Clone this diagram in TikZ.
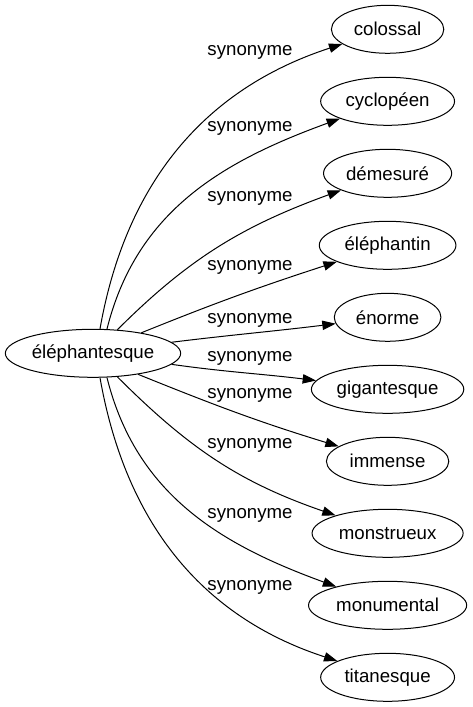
\documentclass[tikz,border=0pt]{standalone}
\usepackage{fontspec}
\setmainfont{Liberation Sans}
\usetikzlibrary{shapes.geometric,arrows.meta}

\begin{document}
\begin{tikzpicture}[x=0.75pt,y=0.75pt,font=\fontsize{14pt}{16pt}\selectfont,
    word/.style={draw,ellipse,inner sep=0pt,minimum height=36pt,line width=0.75pt},
    syn/.style={inner sep=0pt}]
                \useasboundingbox (0,0) rectangle (472,-707);
                \node[word,minimum width=131.5pt] (ele) at (93,-353.3) {éléphantesque};
                \node[word,minimum width=84.3pt]  (col) at (387.6,-29.3)  {colossal};
                \node[word,minimum width=100.4pt] (cyc) at (387.6,-101.3) {cyclopéen};
                \node[word,minimum width=96.1pt]  (dem) at (387.6,-173.3) {démesuré};
                \node[word,minimum width=102.5pt] (elp) at (387.6,-245.3) {éléphantin};
                \node[word,minimum width=80pt]    (eno) at (387.6,-317.3) {énorme};
                \node[word,minimum width=114.3pt] (gig) at (387.6,-389.3) {gigantesque};
                \node[word,minimum width=91.8pt]  (imm) at (387.6,-461.3) {immense};
                \node[word,minimum width=113.3pt] (mst) at (387.6,-533.3) {monstrueux};
                \node[word,minimum width=118.6pt] (mnm) at (387.6,-605.3) {monumental};
                \node[word,minimum width=100.4pt] (tit) at (387.6,-677.3) {titanesque};
                % edge labels
                \node[syn] (s1)  at (250,-52)  {synonyme};
                \node[syn] (s2)  at (250,-128) {synonyme};
                \node[syn] (s3)  at (250,-198) {synonyme};
                \node[syn] (s4)  at (250,-267) {synonyme};
                \node[syn] (s5)  at (250,-320) {synonyme};
                \node[syn] (s6)  at (250,-358) {synonyme};
                \node[syn] (s7)  at (250,-395) {synonyme};
                \node[syn] (s8)  at (250,-445) {synonyme};
                \node[syn] (s9)  at (250,-515) {synonyme};
                \node[syn] (s10) at (250,-587) {synonyme};
                \path[-{Triangle[length=10pt,width=7pt]},line width=0.75pt]
                    (ele.74)  edge[out=80,in=198]  (col)
                    (ele.60)  edge[out=76,in=200]  (cyc)
                    (ele.44)  edge[out=45,in=200]  (dem)
                    (ele.23)  edge[out=22,in=198]  (elp)
                    (ele.8)   edge[out=7,in=187]   (eno)
                    (ele.-8)  edge[out=-8,in=173]  (gig)
                    (ele.-25) edge[out=-22,in=163] (imm)
                    (ele.-44) edge[out=-45,in=161] (mst)
                    (ele.-60) edge[out=-76,in=160] (mnm)
                    (ele.-74) edge[out=-80,in=162] (tit);
            \end{tikzpicture}
\end{document}
